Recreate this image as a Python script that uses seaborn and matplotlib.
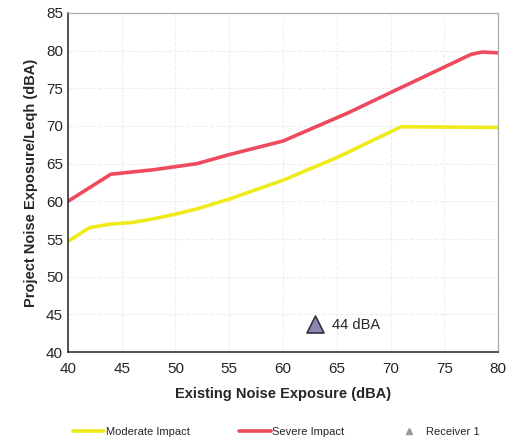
import numpy as np
import matplotlib
matplotlib.use("Agg")
import matplotlib.pyplot as plt
from matplotlib.ticker import MultipleLocator
import seaborn as sns

# curve data
moderate_x = [40, 42, 44, 46, 48, 50, 52, 55, 60, 65, 71, 80]
moderate_y = [54.7, 56.5, 57.0, 57.2, 57.7, 58.3, 59.0, 60.3, 62.8, 65.8, 69.9, 69.8]
severe_x = [40, 44, 48, 52, 55, 60, 66, 71, 77.5, 78.5, 80]
severe_y = [60.0, 63.6, 64.2, 65.0, 66.2, 68.0, 71.7, 75.1, 79.5, 79.8, 79.7]
receiver_x = [63]
receiver_y = [43.8]
receiver_label = "44 dBA"

sns.set_style("white")
plt.rcParams['font.family'] = ['Liberation Sans', 'DejaVu Sans']

fig = plt.figure(figsize=(5.14, 4.43), dpi=100)
ax = fig.add_axes([0.132, 0.205, 0.837, 0.766])

sns.lineplot(x=moderate_x, y=moderate_y, ax=ax, color='#eeea1c', linewidth=2.6,
             label='Moderate Impact')
sns.lineplot(x=severe_x, y=severe_y, ax=ax, color='#ee4a5e', linewidth=2.6,
             label='Severe Impact')
sns.scatterplot(x=receiver_x, y=receiver_y, ax=ax, marker='^', s=150,
                color='#8a87b0', edgecolor='#333344', linewidth=1.2, label='Receiver 1',
                zorder=5)
ax.annotate(receiver_label, (receiver_x[0], receiver_y[0]), xytext=(12, -1),
            textcoords='offset points', va='center', fontsize=10.5)

ax.set_xlim(40, 80)
ax.set_ylim(40, 85)
ax.xaxis.set_major_locator(MultipleLocator(5))
ax.yaxis.set_major_locator(MultipleLocator(5))
ax.xaxis.set_minor_locator(MultipleLocator(1))
ax.yaxis.set_minor_locator(MultipleLocator(1))
ax.tick_params(which='major', direction='in', length=4, labelsize=11, color='#333333')
ax.tick_params(which='minor', direction='in', length=2, color='#555555')
ax.tick_params(axis='x', pad=7)
ax.grid(True, which='major', color='#eeeeee', linestyle='--', linewidth=0.8)

for side in ['left', 'bottom']:
    ax.spines[side].set_color('#222222')
    ax.spines[side].set_linewidth(1.1)
for side in ['top', 'right']:
    ax.spines[side].set_color('#aaaaaa')
    ax.spines[side].set_linewidth(0.9)

ax.set_xlabel("Existing Noise Exposure (dBA)", fontsize=10.5, fontweight='bold', labelpad=8)
ax.set_ylabel("Project Noise Exposure/Leqh (dBA)", fontsize=10.5, fontweight='bold', labelpad=6)

handles, labels = ax.get_legend_handles_labels()
handles[2] = plt.Line2D([], [], marker='^', color='none', markerfacecolor='#999999',
                        markeredgecolor='#999999', markersize=4)
ax.legend(handles, labels, loc='center', bbox_to_anchor=(0.485, -0.235), ncol=3,
          frameon=False, fontsize=8, columnspacing=4.5, handlelength=2.8, handletextpad=0.1)

fig.savefig("out.png", dpi=100)
